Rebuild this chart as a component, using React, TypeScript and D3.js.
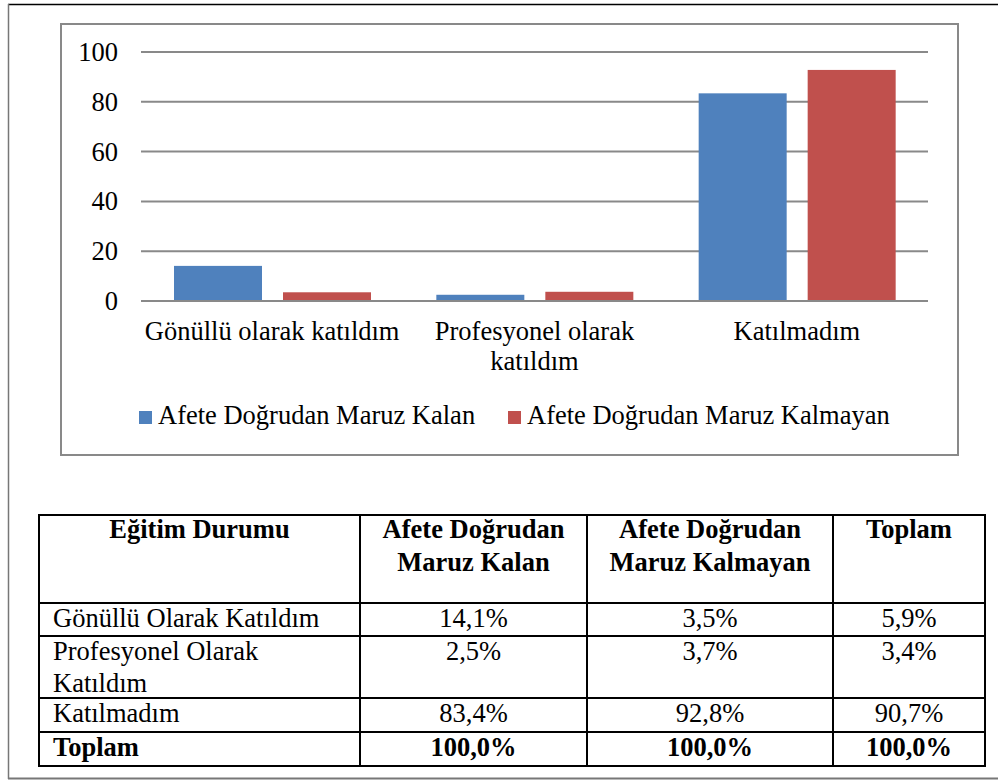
import React from "react";
import * as d3 from "d3";

const categories = ["Gönüllü olarak katıldım", "Profesyonel olarak katıldım", "Katılmadım"];
const categoryLines = [["Gönüllü olarak katıldım"], ["Profesyonel olarak", "katıldım"], ["Katılmadım"]];
const seriesNames = ["Afete Doğrudan Maruz Kalan", "Afete Doğrudan Maruz Kalmayan"];
const seriesColors = ["#4F81BD", "#C0504D"];
const kalanValues = [14.1, 2.5, 83.4];
const kalmayanValues = [3.5, 3.7, 92.8];
const yTicks = [0, 20, 40, 60, 80, 100];

const tableHeader = [["Eğitim Durumu"], ["Afete Doğrudan", "Maruz Kalan"], ["Afete Doğrudan", "Maruz Kalmayan"], ["Toplam"]];
const rowLabels = [["Gönüllü Olarak Katıldım"], ["Profesyonel Olarak", "Katıldım"], ["Katılmadım"], ["Toplam"]];
const colKalan = ["14,1%", "2,5%", "83,4%", "100,0%"];
const colKalmayan = ["3,5%", "3,7%", "92,8%", "100,0%"];
const colToplam = ["5,9%", "3,4%", "90,7%", "100,0%"];

const FONT = "'Liberation Serif', 'Times New Roman', serif";

export default function App() {
  const x0 = d3.scaleBand<string>().domain(categories).range([141, 928]).paddingInner(0).paddingOuter(0);
  const x1 = d3.scaleBand<string>().domain(seriesNames).range([33, 230]).paddingInner(21 / 109).paddingOuter(0);
  const y = d3.scaleLinear().domain([0, 100]).range([301, 52]);
  const seriesValues = [kalanValues, kalmayanValues];

  // table geometry
  const colX = [39, 360, 587, 833, 985];
  const rowY = [515, 603, 636, 698, 732, 766];
  const lineH = 32;
  const fs = 26.5;

  return (
    <svg width={998} height={781} style={{ position: "absolute", left: 0, top: 0 }} fontFamily={FONT}>
      <rect x={0} y={0} width={998} height={781} fill="#fff" />
      {/* page frame */}
      <line x1={8} y1={4.5} x2={998} y2={4.5} stroke="#000" strokeWidth={1.5} />
      <line x1={8.5} y1={4} x2={8.5} y2={779} stroke="#777" strokeWidth={1.5} />
      <line x1={8} y1={778.5} x2={998} y2={778.5} stroke="#777" strokeWidth={2} />

      {/* chart box */}
      <rect x={61} y={24} width={897} height={431} fill="#fff" stroke="#898989" strokeWidth={2} />

      {/* grid */}
      {yTicks.map((t) => (
        <g key={t}>
          <line x1={141} x2={928} y1={y(t)} y2={y(t)} stroke="#898989" strokeWidth={2} />
          <text x={118} y={y(t) + 9} textAnchor="end" fontSize={fs} fill="#000">
            {t}
          </text>
        </g>
      ))}

      {/* bars */}
      {categories.map((c, ci) => (
        <g key={c} transform={`translate(${x0(c)},0)`}>
          {seriesNames.map((s, si) => {
            const v = seriesValues[si][ci];
            return (
              <rect
                key={s}
                x={x1(s)}
                y={y(v)}
                width={x1.bandwidth()}
                height={y(0) - y(v)}
                fill={seriesColors[si]}
              />
            );
          })}
        </g>
      ))}
      <line x1={141} x2={928} y1={y(0)} y2={y(0)} stroke="#898989" strokeWidth={2} />

      {/* category labels */}
      {categories.map((c, ci) => (
        <text key={c} x={(x0(c) as number) + x0.bandwidth() / 2} y={340} textAnchor="middle" fontSize={fs}>
          {categoryLines[ci].map((l, li) => (
            <tspan key={li} x={(x0(c) as number) + x0.bandwidth() / 2} dy={li === 0 ? 0 : 30}>
              {l}
            </tspan>
          ))}
        </text>
      ))}

      {/* legend */}
      <rect x={139} y={411} width={13} height={13} fill={seriesColors[0]} />
      <text x={158} y={424} fontSize={fs}>{seriesNames[0]}</text>
      <rect x={508} y={411} width={13} height={13} fill={seriesColors[1]} />
      <text x={527} y={424} fontSize={fs}>{seriesNames[1]}</text>

      {/* table */}
      <g>
        {rowY.map((ry, i) => (
          <line key={"h" + i} x1={colX[0] - 1} x2={colX[4] + 1} y1={ry} y2={ry} stroke="#000" strokeWidth={2} />
        ))}
        {colX.map((cx, i) => (
          <line key={"v" + i} x1={cx} x2={cx} y1={rowY[0]} y2={rowY[5]} stroke="#000" strokeWidth={2} />
        ))}
        {tableHeader.map((lines, ci) => (
          <text key={"th" + ci} fontSize={fs} fontWeight="bold" textAnchor="middle">
            {lines.map((l, li) => (
              <tspan key={li} x={(colX[ci] + colX[ci + 1]) / 2} y={538 + li * 33}>
                {l}
              </tspan>
            ))}
          </text>
        ))}
        {rowLabels.map((lines, ri) => (
          <g key={"r" + ri} fontWeight={ri === 3 ? "bold" : "normal"} fontSize={fs}>
            {lines.map((l, li) => (
              <text key={li} x={53} y={rowY[ri + 1] + 24 + li * lineH}>
                {l}
              </text>
            ))}
            {[colKalan, colKalmayan, colToplam].map((col, ci) => (
              <text
                key={"c" + ci}
                x={(colX[ci + 1] + colX[ci + 2]) / 2}
                y={rowY[ri + 1] + 24}
                textAnchor="middle"
              >
                {col[ri]}
              </text>
            ))}
          </g>
        ))}
      </g>
    </svg>
  );
}
